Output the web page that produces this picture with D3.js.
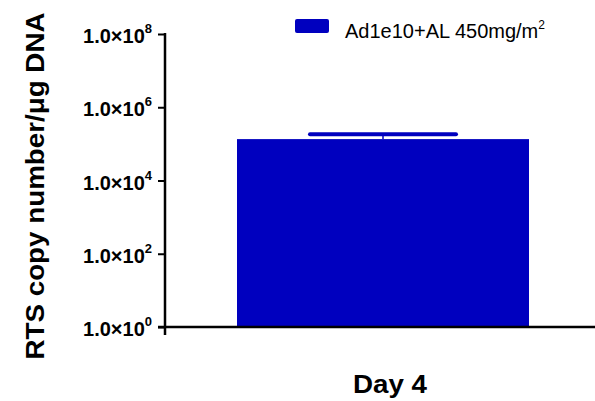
<!DOCTYPE html>
<html>
<head>
<meta charset="utf-8">
<script src="https://cdn.jsdelivr.net/npm/d3@7"></script>
<style>
  html, body { margin: 0; padding: 0; background: #fff; }
  svg { display: block; }
  text { font-family: "Liberation Sans", Arial, Helvetica, sans-serif; }
</style>
</head>
<body>
<svg id="chart" width="595" height="401"></svg>
<script>
// ---- data ----
const categories = ["Day 4"];
const seriesName = "Ad1e10+AL 450mg/m";
const seriesSup = "2";
const meanValues = [1.35e5];
const errorUpper = [1.82e5];
const tickValues = [1e0, 1e2, 1e4, 1e6, 1e8];
const tickExponents = ["0", "2", "4", "6", "8"];
const yTitle = "RTS copy number/\u03BCg DNA";

const barColor = "#0000BF";

const svg = d3.select("#chart");

const y = d3.scaleLog().domain([1, 1e8]).range([327, 34]);
const x = d3.scaleBand().domain(categories).range([237, 529]).padding(0);

// bar
svg.selectAll("rect.bar").data(categories).enter().append("rect")
  .attr("class", "bar")
  .attr("x", d => x(d))
  .attr("width", x.bandwidth())
  .attr("y", (d, i) => y(meanValues[i]))
  .attr("height", (d, i) => y(1) - y(meanValues[i]))
  .attr("fill", barColor);

// error bar
categories.forEach((c, i) => {
  const cx = x(c) + x.bandwidth() / 2;
  svg.append("line")
    .attr("x1", cx).attr("x2", cx)
    .attr("y1", y(meanValues[i])).attr("y2", y(errorUpper[i]))
    .attr("stroke", barColor).attr("stroke-width", 1.5);
  svg.append("line")
    .attr("x1", cx - x.bandwidth() * 0.25).attr("x2", cx + x.bandwidth() * 0.25)
    .attr("y1", y(errorUpper[i])).attr("y2", y(errorUpper[i]))
    .attr("stroke", barColor).attr("stroke-width", 4)
    .attr("stroke-linecap", "round");
});

// y axis
const yAxis = d3.axisLeft(y).tickValues(tickValues).tickSize(7).tickFormat("");
const gy = svg.append("g").attr("transform", "translate(165,0)").call(yAxis);
gy.select(".domain").remove();
gy.selectAll(".tick line").attr("stroke", "#000").attr("stroke-width", 2);
svg.append("line").attr("x1", 165).attr("x2", 165)
  .attr("y1", y(1e8) - 1).attr("y2", y(1) + 8)
  .attr("stroke", "#000").attr("stroke-width", 2.5);

// tick labels
tickValues.forEach((v, i) => {
  const t = svg.append("text")
    .attr("x", 152).attr("y", y(v) + 9)
    .attr("text-anchor", "end")
    .attr("font-weight", "bold").attr("font-size", 20).attr("fill", "#000");
  t.append("tspan").text("1.0\u00D710");
  t.append("tspan").attr("dy", -10).attr("font-size", 13).text(tickExponents[i]);
});

// x axis
svg.append("line").attr("x1", 158).attr("x2", 595)
  .attr("y1", y(1)).attr("y2", y(1))
  .attr("stroke", "#000").attr("stroke-width", 2.5);

// x category labels
svg.selectAll("text.xlab").data(categories).enter().append("text")
  .attr("class", "xlab")
  .attr("x", d => x(d) + x.bandwidth() / 2 + 7)
  .attr("y", 393)
  .attr("text-anchor", "middle")
  .attr("font-weight", "bold").attr("font-size", 25)
  .attr("textLength", 74).attr("lengthAdjust", "spacingAndGlyphs")
  .text(d => d);

// y title
svg.append("text")
  .attr("transform", "translate(44,186) rotate(-90)")
  .attr("text-anchor", "middle")
  .attr("font-weight", "bold").attr("font-size", 25)
  .attr("textLength", 347).attr("lengthAdjust", "spacingAndGlyphs")
  .text(yTitle);

// legend
svg.append("rect").attr("x", 295).attr("y", 19).attr("width", 34).attr("height", 14)
  .attr("rx", 2).attr("fill", barColor);
const lt = svg.append("text").attr("x", 345).attr("y", 38)
  .attr("font-size", 20).attr("fill", "#000");
lt.append("tspan").text(seriesName);
lt.append("tspan").attr("dy", -9).attr("font-size", 12).text(seriesSup);
</script>
</body>
</html>
